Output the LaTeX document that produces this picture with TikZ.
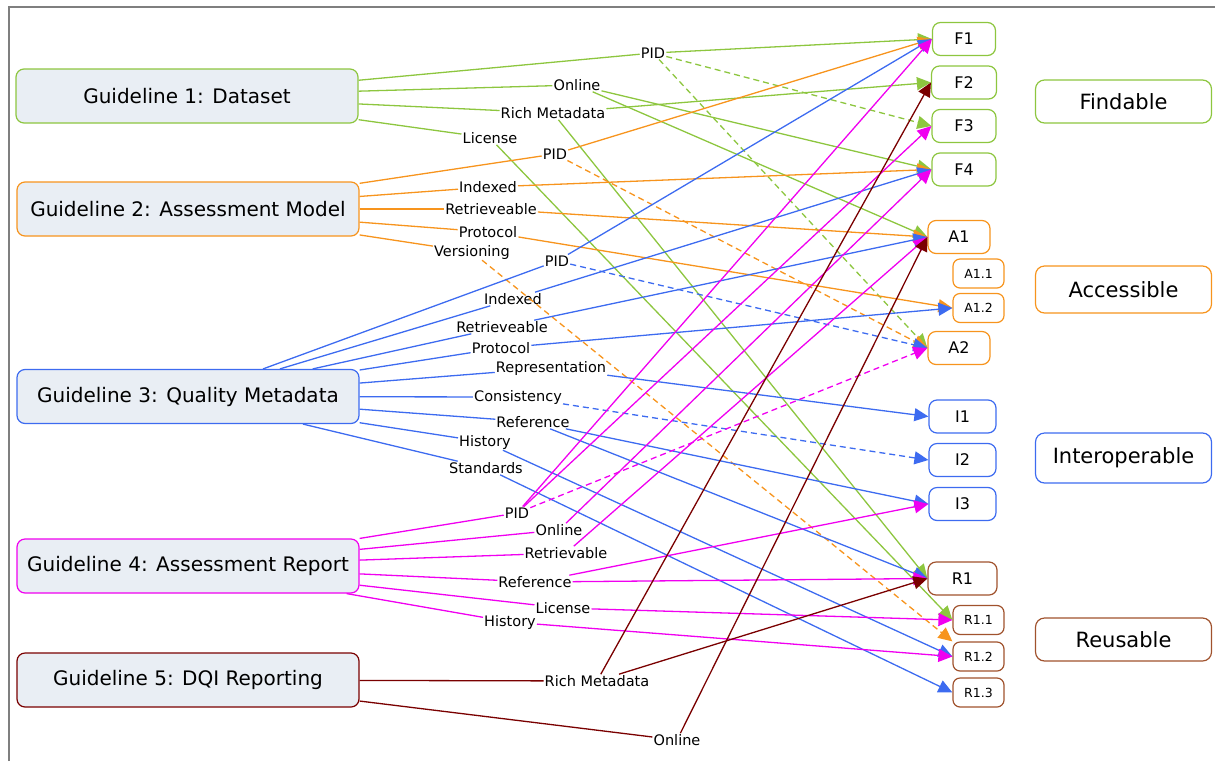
\documentclass[tikz,border=0pt]{standalone}
\usepackage{fontspec}
\setmainfont{DejaVu Sans}
\usetikzlibrary{arrows.meta}

\definecolor{cgreen}{HTML}{8DC63F}
\definecolor{corange}{HTML}{F7941D}
\definecolor{cblue}{HTML}{3D6BF0}
\definecolor{cmag}{HTML}{F000F0}
\definecolor{cdred}{HTML}{7A0000}
\definecolor{cbrown}{HTML}{A0522D}
\definecolor{boxfill}{HTML}{E9EEF4}
\definecolor{framegray}{HTML}{7F7F7F}

\begin{document}
\begin{tikzpicture}[x=1pt,y=-1pt,
  guide/.style={draw, rounded corners=8pt, fill=boxfill, line width=1.2pt,
    minimum width=342pt, minimum height=54pt, inner sep=0pt,
    font=\fontsize{20}{24}\selectfont},
  crit/.style={draw, rounded corners=8pt, fill=white, line width=1.2pt,
    minimum height=33pt, inner sep=0pt, font=\fontsize{16}{19}\selectfont},
  subcrit/.style={draw, rounded corners=7pt, fill=white, line width=1.2pt,
    minimum width=51pt, minimum height=29pt, inner sep=0pt,
    font=\fontsize{12.5}{15}\selectfont},
  cat/.style={draw, rounded corners=9pt, fill=white, line width=1.2pt,
    minimum width=176pt, inner sep=0pt, font=\fontsize{21}{25}\selectfont},
  lab/.style={inner sep=1pt, font=\fontsize{14.5}{17}\selectfont},
  link/.style={line width=1.3pt},
  arr/.style={line width=1.3pt, -{Triangle[length=14pt,width=13pt]}},
  dashline/.style={dash pattern=on 6pt off 4pt},
]
\useasboundingbox (0,0) rectangle (1215,761);

% outer frame
\draw[framegray, line width=2pt] (9,761) -- (9,7) -- (1215,7);

% guideline boxes
\node[guide, draw=cgreen]  (g1) at (187,96)    {Guideline 1: Dataset};
\node[guide, draw=corange] (g2) at (188,209)   {Guideline 2: Assessment Model};
\node[guide, draw=cblue]   (g3) at (188,396.5) {Guideline 3: Quality Metadata};
\node[guide, draw=cmag]    (g4) at (188,566)   {Guideline 4: Assessment Report};
\node[guide, draw=cdred]   (g5) at (188,680)   {Guideline 5: DQI Reporting};

% FAIR principle boxes
\node[crit, draw=cgreen, minimum width=63pt] (f1) at (964,39)    {F1};
\node[crit, draw=cgreen, minimum width=65pt] (f2) at (964,82.5)  {F2};
\node[crit, draw=cgreen, minimum width=64pt] (f3) at (964,126)   {F3};
\node[crit, draw=cgreen, minimum width=64pt] (f4) at (964,169.5) {F4};
\node[crit, draw=corange, minimum width=62pt] (a1) at (959,237)  {A1};
\node[subcrit, draw=corange] (a11) at (978.5,273.5) {A1.1};
\node[subcrit, draw=corange] (a12) at (978.5,308)   {A1.2};
\node[crit, draw=corange, minimum width=62pt] (a2) at (959,348)  {A2};
\node[crit, draw=cblue, minimum width=67pt] (i1) at (962.5,416.5) {I1};
\node[crit, draw=cblue, minimum width=67pt] (i2) at (962.5,460)   {I2};
\node[crit, draw=cblue, minimum width=67pt] (i3) at (962.5,504)   {I3};
\node[crit, draw=cbrown, minimum width=69pt] (r1) at (962.5,578.5) {R1};
\node[subcrit, draw=cbrown] (r11) at (978.5,620)   {R1.1};
\node[subcrit, draw=cbrown] (r12) at (978.5,656.5) {R1.2};
\node[subcrit, draw=cbrown] (r13) at (978.5,692.5) {R1.3};

% FAIR categories
\node[cat, draw=cgreen,  minimum height=43pt] (cf) at (1123.5,101.5) {Findable};
\node[cat, draw=corange, minimum height=47pt] (ca) at (1123.5,289.5) {Accessible};
\node[cat, draw=cblue,   minimum height=50pt] (ci) at (1123.5,458)   {Interoperable};
\node[cat, draw=cbrown,  minimum height=43pt] (cr) at (1123.5,639.5) {Reusable};

% edge labels
\node[lab] (l1pid)  at (653,53)  {PID};
\node[lab] (l1onl)  at (577,85)  {Online};
\node[lab] (l1rich) at (553,113) {Rich Metadata};
\node[lab] (l1lic)  at (490,138) {License};

\node[lab] (l2pid)  at (555,154) {PID};
\node[lab] (l2idx)  at (488,187) {Indexed};
\node[lab] (l2ret)  at (491,209) {Retrieveable};
\node[lab] (l2pro)  at (488,232) {Protocol};
\node[lab] (l2ver)  at (472,252) {Versioning};

\node[lab] (l3pid)  at (557,261) {PID};
\node[lab] (l3idx)  at (513,299) {Indexed};
\node[lab] (l3ret)  at (502,327) {Retrieveable};
\node[lab] (l3pro)  at (501,348) {Protocol};
\node[lab] (l3rep)  at (551,368) {Representation};
\node[lab] (l3con)  at (518,397) {Consistency};
\node[lab] (l3ref)  at (533,422) {Reference};
\node[lab] (l3his)  at (485,442) {History};
\node[lab] (l3std)  at (486,468) {Standards};

\node[lab] (l4pid)  at (517,513) {PID};
\node[lab] (l4onl)  at (559,530) {Online};
\node[lab] (l4ret)  at (566,553) {Retrievable};
\node[lab] (l4ref)  at (535,582) {Reference};
\node[lab] (l4lic)  at (563,608) {License};
\node[lab] (l4his)  at (510,622) {History};

\node[lab] (l5rich) at (597,681) {Rich Metadata};
\node[lab] (l5onl)  at (677,740) {Online};

% Guideline 1
\begin{scope}[cgreen]
\foreach \l in {l1pid,l1onl,l1rich,l1lic} \draw[link] (g1) -- (\l);
\draw[arr] (l1pid) -- (f1.west);
\draw[arr,dashline] (l1pid) -- (f3.west);
\draw[arr,dashline] (l1pid) -- (a2.west);
\draw[arr] (l1onl) -- (f4.west);
\draw[arr] (l1onl) -- (a1.west);
\draw[arr] (l1rich) -- (f2.west);
\draw[arr] (l1rich) -- (r1.west);
\draw[arr] (l1lic) -- (r11.west);
\end{scope}

% Guideline 2
\begin{scope}[corange]
\foreach \l in {l2pid,l2idx,l2ret,l2pro,l2ver} \draw[link] (g2) -- (\l);
\draw[arr] (l2pid) -- (f1.west);
\draw[arr,dashline] (l2pid) -- (a2.west);
\draw[arr] (l2idx) -- (f4.west);
\draw[arr] (l2ret) -- (a1.west);
\draw[arr] (l2pro) -- (a12.west);
\draw[arr,dashline] (l2ver) -- (r12.north west);
\end{scope}

% Guideline 3
\begin{scope}[cblue]
\foreach \l in {l3pid,l3idx,l3ret,l3pro,l3rep,l3con,l3ref,l3his,l3std} \draw[link] (g3) -- (\l);
\draw[arr] (l3pid) -- (f1.west);
\draw[arr,dashline] (l3pid) -- (a2.west);
\draw[arr] (l3idx) -- (f4.west);
\draw[arr] (l3ret) -- (a1.west);
\draw[arr] (l3pro) -- (a12.west);
\draw[arr] (l3rep) -- (i1.west);
\draw[arr,dashline] (l3con) -- (i2.west);
\draw[arr] (l3ref) -- (i3.west);
\draw[arr] (l3ref) -- (r1.west);
\draw[arr] (l3his) -- (r12.west);
\draw[arr] (l3std) -- (r13.west);
\end{scope}

% Guideline 4
\begin{scope}[cmag]
\foreach \l in {l4pid,l4onl,l4ret,l4ref,l4lic,l4his} \draw[link] (g4) -- (\l);
\draw[arr] (l4pid) -- (f1.west);
\draw[arr] (l4pid) -- (f3.west);
\draw[arr,dashline] (l4pid) -- (a2.west);
\draw[arr] (l4onl) -- (f4.west);
\draw[arr] (l4ret) -- (a1.west);
\draw[arr] (l4ref) -- (i3.west);
\draw[arr] (l4ref) -- (r1.west);
\draw[arr] (l4lic) -- (r11.west);
\draw[arr] (l4his) -- (r12.west);
\end{scope}

% Guideline 5
\begin{scope}[cdred]
\foreach \l in {l5rich,l5onl} \draw[link] (g5) -- (\l);
\draw[arr] (l5rich) -- (f2.west);
\draw[arr] (l5rich) -- (r1.west);
\draw[arr] (l5onl) -- (a1.west);
\end{scope}

\end{tikzpicture}
\end{document}
